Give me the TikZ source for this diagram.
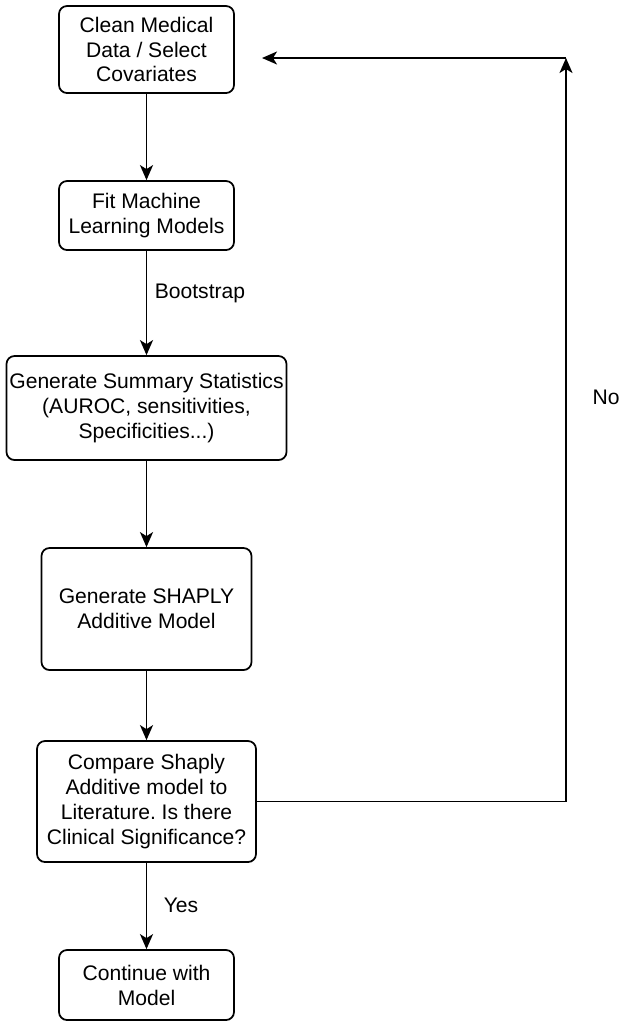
\documentclass[tikz,border=0pt]{standalone}
\usepackage{fontspec}
\setmainfont{Liberation Sans}
\usepackage{tikz}
\usetikzlibrary{arrows.meta}
\tikzset{box/.style={draw, line width=1pt, rounded corners=0.16cm, align=center,
   font=\fontsize{12}{14.2}\selectfont, inner sep=0pt},
 flow/.style={draw, line width=1pt, -{Stealth[length=0.3cm, width=0.26cm, inset=0.08cm]}},
 lbl/.style={font=\fontsize{12}{14.2}\selectfont},
 }

\begin{document}
\begin{tikzpicture}
        \useasboundingbox (0,0) rectangle (12.5,-20.54);
        \node[box, minimum width=3.5cm, minimum height=1.74cm] (clean) at (2.93,-0.99) {Clean Medical\\Data / Select\\Covariates};
        \node[box, minimum width=3.5cm, minimum height=1.38cm] (fit) at (2.93,-4.31) {Fit Machine\\Learning Models};
        \node[box, minimum width=5.6cm, minimum height=2.08cm] (summary) at (2.93,-8.16) {Generate Summary Statistics\\(AUROC, sensitivities,\\Specificities...)};
        \node[box, minimum width=4.2cm, minimum height=2.44cm] (shap) at (2.93,-12.18) {Generate SHAPLY\\Additive Model};
        \node[box, minimum width=4.38cm, minimum height=2.42cm] (compare) at (2.93,-16.03) {Compare Shaply\\Additive model to\\Literature.\ Is there\\Clinical Significance?};
        \node[box, minimum width=3.5cm, minimum height=1.4cm] (cont) at (2.93,-19.7) {Continue with\\Model};
        \coordinate (corner) at (11.32,-1.16);
        \coordinate (back) at (5.24,-1.16);
        \draw[flow] (clean) -- (fit);
        \draw[flow] (fit) -- (summary);
        \draw[flow] (summary) -- (shap);
        \draw[flow] (shap) -- (compare);
        \draw[flow] (compare) -- (cont);
        \draw[flow] (compare.east) -| (corner);
        \draw[flow] (corner) -- (back);
        \node[lbl] (boot) at (4.0,-5.86) {Bootstrap};
        \node[lbl] (no) at (12.12,-7.94) {No};
        \node[lbl] (yes) at (3.62,-18.1) {Yes};
    \end{tikzpicture}
\end{document}
